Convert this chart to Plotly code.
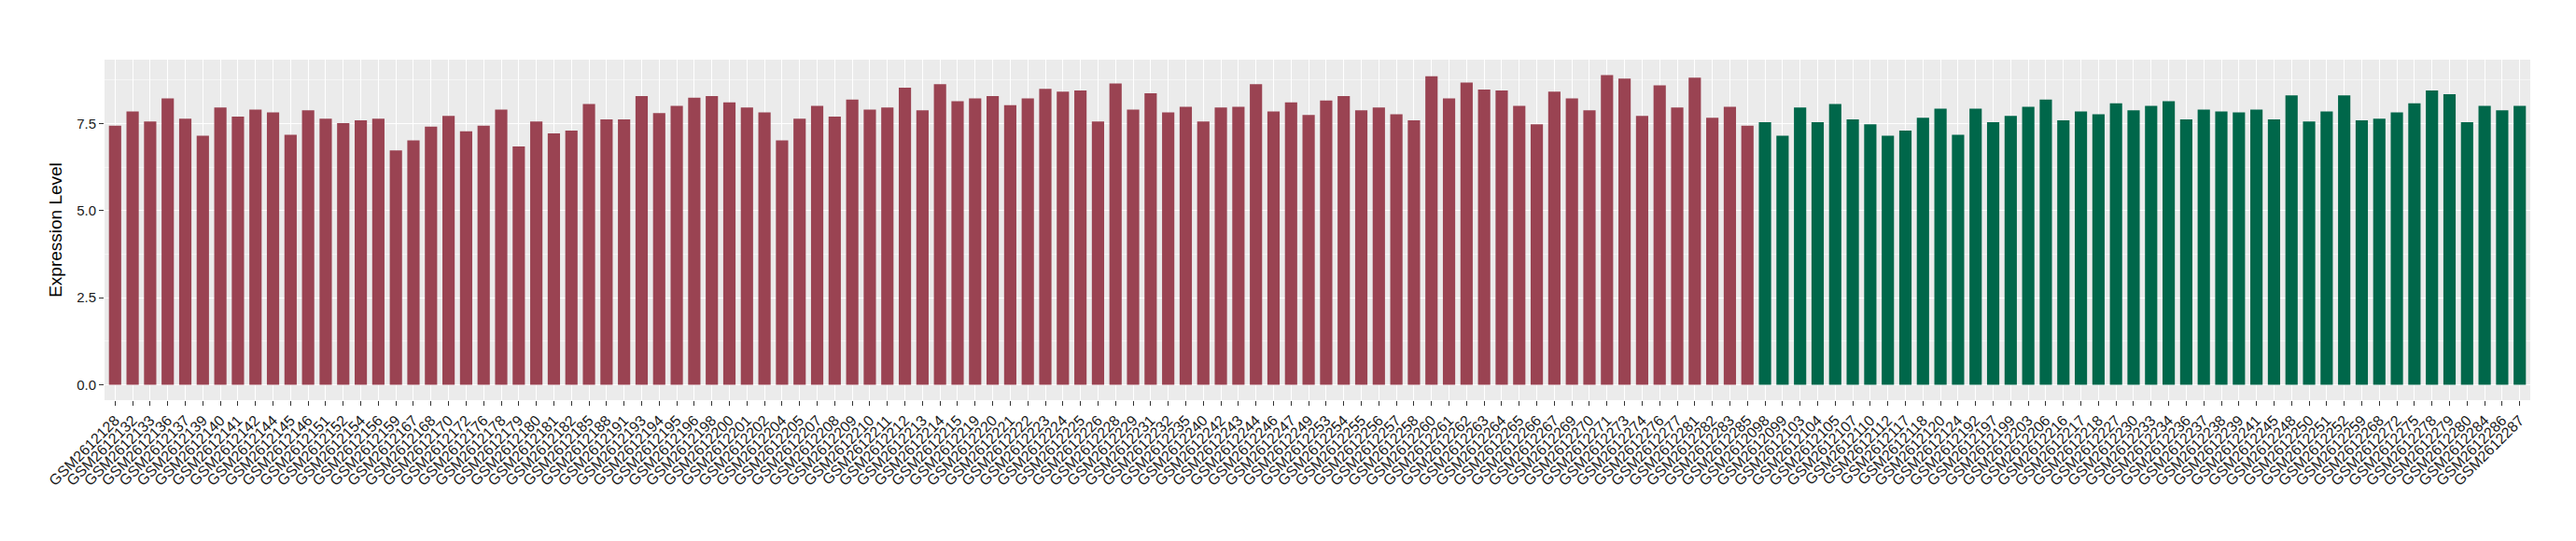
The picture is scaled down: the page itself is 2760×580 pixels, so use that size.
import plotly.graph_objects as go

red_samples = ["GSM2612128","GSM2612132","GSM2612133","GSM2612136","GSM2612137","GSM2612139","GSM2612140","GSM2612141","GSM2612142","GSM2612144","GSM2612145","GSM2612146",
"GSM2612151","GSM2612152","GSM2612154","GSM2612156","GSM2612159","GSM2612167","GSM2612168","GSM2612170","GSM2612172","GSM2612176","GSM2612178","GSM2612179","GSM2612180","GSM2612181","GSM2612182","GSM2612185",
"GSM2612188","GSM2612191","GSM2612193","GSM2612194","GSM2612195","GSM2612196","GSM2612198","GSM2612200","GSM2612201","GSM2612202","GSM2612204","GSM2612205","GSM2612207","GSM2612208","GSM2612209","GSM2612210","GSM2612211",
"GSM2612212","GSM2612213","GSM2612214","GSM2612215","GSM2612219","GSM2612220","GSM2612221","GSM2612222","GSM2612223","GSM2612224","GSM2612225","GSM2612226","GSM2612228","GSM2612229","GSM2612231","GSM2612232",
"GSM2612235","GSM2612240","GSM2612242","GSM2612243","GSM2612244","GSM2612246","GSM2612247","GSM2612249","GSM2612253","GSM2612254","GSM2612255","GSM2612256","GSM2612257","GSM2612258","GSM2612260","GSM2612261","GSM2612262",
"GSM2612263","GSM2612264","GSM2612265","GSM2612266","GSM2612267","GSM2612269","GSM2612270","GSM2612271","GSM2612273","GSM2612274","GSM2612276","GSM2612277","GSM2612281","GSM2612282","GSM2612283","GSM2612285"]
red_values = [7.44,7.85,7.56,8.22,7.64,7.15,7.96,7.70,7.90,7.82,7.18,7.88,
7.64,7.51,7.59,7.64,6.73,7.02,7.41,7.72,7.28,7.44,7.90,6.84,7.56,7.22,7.30,8.06,
7.62,7.62,8.29,7.80,8.01,8.24,8.29,8.11,7.96,7.82,7.02,7.64,8.01,7.70,8.19,7.90,7.96,
8.53,7.88,8.63,8.14,8.22,8.29,8.03,8.22,8.50,8.42,8.45,7.56,8.65,7.90,8.37,7.82,
7.98,7.56,7.96,7.98,8.63,7.85,8.11,7.75,8.16,8.29,7.88,7.96,7.77,7.59,8.86,8.22,8.68,
8.48,8.45,8.01,7.48,8.42,8.22,7.88,8.89,8.79,7.72,8.60,7.96,8.82,7.67,7.98,7.44]

green_samples = ["GSM2612098","GSM2612099","GSM2612103","GSM2612104","GSM2612105","GSM2612107","GSM2612110","GSM2612112","GSM2612117","GSM2612118","GSM2612120","GSM2612124","GSM2612192","GSM2612197","GSM2612199","GSM2612203","GSM2612206",
"GSM2612216","GSM2612217","GSM2612218","GSM2612227","GSM2612230","GSM2612233","GSM2612234","GSM2612236","GSM2612237","GSM2612238","GSM2612239","GSM2612241","GSM2612245","GSM2612248","GSM2612250","GSM2612251",
"GSM2612252","GSM2612259","GSM2612268","GSM2612272","GSM2612275","GSM2612278","GSM2612279","GSM2612280","GSM2612284","GSM2612286","GSM2612287"]
green_values = [7.54,7.15,7.96,7.54,8.06,7.62,7.48,7.15,7.30,7.67,7.93,7.18,7.93,7.54,7.72,7.98,8.19,
7.59,7.85,7.77,8.08,7.88,8.01,8.14,7.62,7.90,7.85,7.82,7.90,7.62,8.31,7.56,7.85,
8.31,7.59,7.64,7.82,8.08,8.45,8.34,7.54,8.01,7.88,8.01]

y_ticks = [0, 2.5, 5.0, 7.5]
y_tick_labels = ["0.0", "2.5", "5.0", "7.5"]

RED = "#9A4352"
GREEN = "#00674A"

all_samples = red_samples + green_samples
n = len(all_samples)

fig = go.Figure()
fig.add_trace(go.Bar(x=red_samples, y=red_values, marker=dict(color=RED, line=dict(width=0)), width=0.7, showlegend=False))
fig.add_trace(go.Bar(x=green_samples, y=green_values, marker=dict(color=GREEN, line=dict(width=0)), width=0.7, showlegend=False))

ymax = max(red_values + green_values)
fig.update_layout(
    width=2760, height=580,
    margin=dict(l=104, r=57, t=56, b=159),
    paper_bgcolor="white", plot_bgcolor="#EBEBEB",
    font=dict(family="Liberation Sans, Arial, sans-serif", color="#1A1A1A"),
    bargap=0.3,
    xaxis=dict(
        categoryorder="array", categoryarray=all_samples,
        tickmode="array", tickvals=all_samples, ticktext=all_samples,
        range=[-0.6, n - 1 + 0.6],
        tickangle=-45, tickfont=dict(size=16, color="#1A1A1A"),
        showgrid=True, gridcolor="white", gridwidth=1.3,
        ticks="outside", ticklen=5, tickcolor="#333333", tickwidth=1,
        showline=False, zeroline=False, automargin=False,
    ),
    yaxis=dict(
        range=[-0.05 * ymax, 1.05 * ymax],
        tickvals=y_ticks, ticktext=y_tick_labels,
        tickfont=dict(size=15, color="#1A1A1A"),
        showgrid=True, gridcolor="white", gridwidth=1.3,
        minor=dict(dtick=1.25, tick0=0, showgrid=True, gridcolor="#F5F5F5", gridwidth=0.7),
        ticks="outside", ticklen=5, tickcolor="#333333", tickwidth=1,
        zeroline=False, showline=False, automargin=False,
        title=dict(text="Expression Level", font=dict(size=19, color="black"), standoff=10),
    ),
)

fig.write_html("out.html")
